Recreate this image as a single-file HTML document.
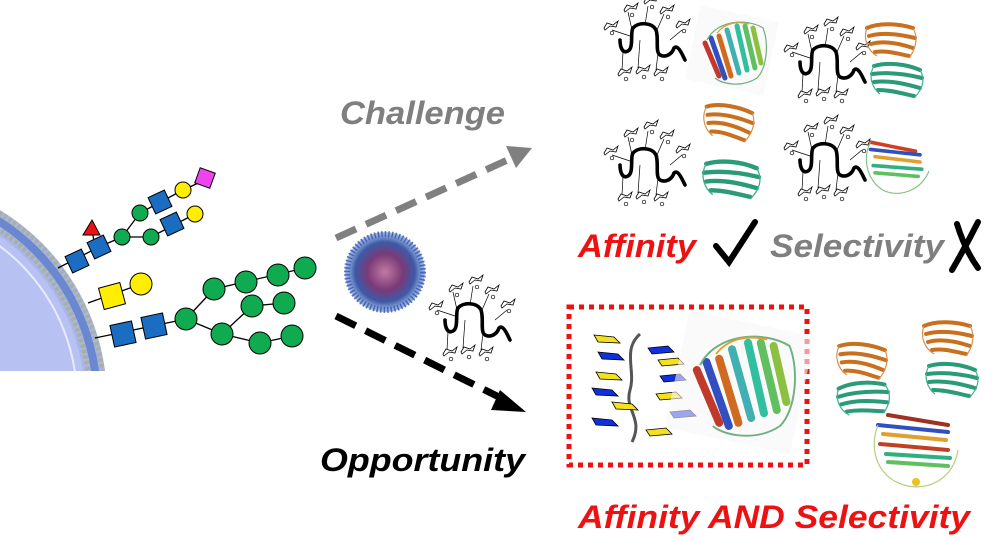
<!DOCTYPE html>
<html><head><meta charset="utf-8"><style>
html,body{margin:0;padding:0;background:#fff;overflow:hidden;width:1000px;height:541px;}
svg{display:block;position:absolute;left:0;top:0;overflow:hidden;}
text{font-family:"Liberation Sans",Arial,sans-serif;font-weight:bold;font-style:italic;}
</style></head><body>
<svg width="1000" height="541" viewBox="0 0 1000 541" xmlns="http://www.w3.org/2000/svg">
<defs>
<radialGradient id="np" cx="50%" cy="50%" r="50%">
<stop offset="0" stop-color="#c07aa0"/><stop offset="0.45" stop-color="#7a3a78"/><stop offset="0.75" stop-color="#3c5aa8"/><stop offset="1" stop-color="#6d8fd0" stop-opacity="0.6"/>
</radialGradient>
<clipPath id="cellclip"><rect x="0" y="0" width="200" height="371"/></clipPath>
<g id="sug">
<path d="M0,0 l3,-5 l6,2 l5,-4 l-2,6 l-6,-1 l-5,4 z" fill="#fff" stroke="#000" stroke-width="0.8"/>
<circle cx="8" cy="5" r="1.8" fill="#fff" stroke="#000" stroke-width="0.7"/>
</g>
<g id="poly">
<g stroke="#000" stroke-width="0.7" fill="none">
<line x1="-18" y1="-10" x2="-22" y2="-28"/><line x1="-5" y1="-15" x2="-2" y2="-34"/><line x1="7" y1="-10" x2="14" y2="-26"/><line x1="20" y1="0" x2="32" y2="-10"/>
<line x1="-27" y1="12" x2="-28" y2="30"/><line x1="-10" y1="0" x2="-12" y2="28"/><line x1="8" y1="13" x2="6" y2="30"/><line x1="-20" y1="-4" x2="-38" y2="-10"/>
</g>
<use href="#sug" x="-46" y="-12"/><use href="#sug" x="-26" y="-30"/><use href="#sug" x="-6" y="-38"/><use href="#sug" x="10" y="-28"/><use href="#sug" x="26" y="-14"/>
<use href="#sug" x="-32" y="34"/><use href="#sug" x="-14" y="32"/><use href="#sug" x="4" y="34"/>
<path d="M-30,0 C-30,8 -27,14 -22,11 C-16,8 -20,-8 -17,-12 C-12,-18 2,-18 6,-10 C9,-2 5,12 10,15 C16,18 22,14 24,8 C28,4 32,14 35,20" fill="none" stroke="#000" stroke-width="3.6" stroke-linecap="round"/>
</g>
<g id="rainbow">
<rect x="-5" y="-5" width="80" height="75" fill="#f6f6f6" opacity="0.6" transform="rotate(12 35 32)"/>
<g fill="none" stroke-width="5" stroke-linecap="round">
<path d="M8,25 L22,58" stroke="#c0392b"/><path d="M14,20 L28,60" stroke="#3050c0"/><path d="M22,18 L34,58" stroke="#d06a20"/>
<path d="M30,12 L42,55" stroke="#40b0b0"/><path d="M40,8 L50,52" stroke="#30c0a0"/><path d="M48,8 L58,50" stroke="#60c060"/><path d="M56,10 L64,45" stroke="#8cc040"/>
</g>
<g fill="none" stroke-width="1.2"><path d="M10,22 C20,2 50,0 66,10 C72,25 70,50 60,60 C45,70 25,66 18,60" stroke="#70b080"/><path d="M20,15 C28,5 40,3 52,6" stroke="#e0a030"/></g>
</g>
<g id="orange">
<g fill="none" stroke="#c8701e" stroke-width="4" stroke-linecap="round">
<path d="M2,10 C15,4 35,6 48,10"/><path d="M4,18 C18,14 34,16 50,20"/><path d="M6,26 C20,22 36,26 48,30"/><path d="M10,34 C22,32 34,36 44,38"/>
</g>
<path d="M2,10 C-2,20 2,32 12,38 M48,10 C54,20 50,32 44,40" fill="none" stroke="#d89050" stroke-width="1.2"/>
</g>
<g id="teal">
<g fill="none" stroke="#2a9a78" stroke-width="4" stroke-linecap="round">
<path d="M4,8 C18,4 36,6 50,12"/><path d="M2,16 C18,14 36,16 52,20"/><path d="M4,24 C20,22 36,26 50,30"/><path d="M8,32 C22,32 34,36 44,38"/>
</g>
<path d="M4,8 C-2,18 2,30 10,36 M50,12 C56,22 52,32 44,40" fill="none" stroke="#40b090" stroke-width="1.2"/>
</g>
</defs>

<!-- cell -->
<g clip-path="url(#cellclip)">
<circle cx="-115" cy="400" r="222" fill="#a9b6e6"/>
<circle cx="-115" cy="400" r="212" fill="none" stroke="#6a88d0" stroke-width="8"/>
<circle cx="-115" cy="400" r="219" fill="none" stroke="#a9b0a0" stroke-width="5" stroke-dasharray="3.5 2.2"/>
<circle cx="-115" cy="400" r="205" fill="none" stroke="#a9b0a0" stroke-width="5" stroke-dasharray="3.5 2.2"/>
<circle cx="-115" cy="400" r="200" fill="#b8c2f2"/>
<circle cx="-115" cy="400" r="192" fill="none" stroke="#e6ebff" stroke-width="2"/>
</g>

<!-- glycans -->
<g stroke="#000" stroke-width="1.3">
<line x1="58" y1="268" x2="99" y2="247"/><line x1="99" y1="247" x2="122" y2="237"/><line x1="95" y1="247" x2="92" y2="230"/>
<line x1="122" y1="237" x2="140" y2="213"/><line x1="140" y1="213" x2="183" y2="190"/><line x1="183" y1="190" x2="205" y2="180"/>
<line x1="122" y1="237" x2="151" y2="237"/><line x1="151" y1="237" x2="195" y2="214"/>
<line x1="88" y1="303" x2="141" y2="284"/>
<line x1="95" y1="338" x2="186" y2="319"/><line x1="186" y1="319" x2="214" y2="289"/><line x1="214" y1="289" x2="305" y2="268"/>
<line x1="186" y1="319" x2="222" y2="334"/><line x1="222" y1="334" x2="252" y2="306"/><line x1="252" y1="306" x2="284" y2="303"/>
<line x1="222" y1="334" x2="260" y2="343"/><line x1="260" y1="343" x2="292" y2="336"/>
</g>
<g stroke="#000" stroke-width="1">
<rect x="68" y="252" width="18" height="18" fill="#1a6dc0" transform="rotate(-25 77 261)"/>
<rect x="90" y="238" width="18" height="18" fill="#1a6dc0" transform="rotate(-25 99 247)"/>
<polygon points="92,220 100,235 83,235" fill="#ee1111"/>
<circle cx="122" cy="237" r="8" fill="#10aa50"/><circle cx="140" cy="213" r="8" fill="#10aa50"/><circle cx="151" cy="237" r="8" fill="#10aa50"/>
<rect x="151" y="193" width="18" height="18" fill="#1a6dc0" transform="rotate(-25 160 202)"/>
<rect x="163" y="215" width="18" height="18" fill="#1a6dc0" transform="rotate(-25 172 224)"/>
<circle cx="183" cy="190" r="8" fill="#ffee00"/><circle cx="195" cy="214" r="8" fill="#ffee00"/>
<rect x="197" y="170" width="16" height="16" fill="#ee44ee" transform="rotate(20 205 178)"/>
<rect x="101" y="285" width="22" height="22" fill="#ffee00" transform="rotate(-15 112 296)"/>
<circle cx="141" cy="284" r="11" fill="#ffee00"/>
<rect x="112" y="323" width="22" height="22" fill="#1a6dc0" transform="rotate(-12 123 334)"/>
<rect x="143" y="315" width="22" height="22" fill="#1a6dc0" transform="rotate(-12 154 326)"/>
<circle cx="186" cy="319" r="11" fill="#10aa50"/><circle cx="214" cy="289" r="11" fill="#10aa50"/><circle cx="246" cy="282" r="11" fill="#10aa50"/><circle cx="278" cy="275" r="11" fill="#10aa50"/><circle cx="305" cy="268" r="11" fill="#10aa50"/>
<circle cx="222" cy="334" r="11" fill="#10aa50"/><circle cx="252" cy="306" r="11" fill="#10aa50"/><circle cx="284" cy="303" r="11" fill="#10aa50"/>
<circle cx="260" cy="343" r="11" fill="#10aa50"/><circle cx="292" cy="336" r="11" fill="#10aa50"/>
</g>

<!-- arrows -->
<line x1="336" y1="238" x2="512" y2="158" stroke="#808080" stroke-width="7" stroke-dasharray="22 11"/>
<polygon points="532,148 506,146 516,168" fill="#808080"/>
<line x1="336" y1="316" x2="505" y2="400" stroke="#000" stroke-width="7" stroke-dasharray="22 11"/>
<polygon points="526,412 500,390 491,410" fill="#000"/>

<!-- nanoparticle -->
<circle cx="385" cy="272" r="40" fill="url(#np)"/>
<circle cx="385" cy="272" r="38" fill="none" stroke="#2f55b0" stroke-width="6" stroke-dasharray="1.5 2" opacity="0.8"/>

<!-- polymers -->
<use href="#poly" x="475" y="320"/>
<use href="#poly" x="650" y="40"/>
<use href="#poly" x="830" y="62"/>
<use href="#poly" x="650" y="165"/>
<use href="#poly" x="830" y="160"/>

<!-- top proteins -->
<use href="#rainbow" x="697" y="18"/>
<use href="#orange" x="865" y="18"/>
<use href="#teal" x="870" y="58"/>
<use href="#orange" x="703" y="100" transform="rotate(8 730 120)"/>
<use href="#teal" x="702" y="155" transform="scale(1.1) translate(-64,-14)"/>
<g transform="translate(866,135) scale(0.9)"><g fill="none" stroke-width="4" stroke-linecap="round">
<path d="M5,8 L55,18" stroke="#d04020"/><path d="M5,16 L60,22" stroke="#3050c0"/><path d="M10,24 L60,30" stroke="#e0a030"/><path d="M8,34 L62,38" stroke="#30b080"/><path d="M10,42 L58,46" stroke="#60c060"/></g>
<path d="M5,8 C-4,25 0,50 20,62 C40,70 62,60 70,40" fill="none" stroke="#80c080" stroke-width="1.2"/></g>

<!-- red box -->
<rect x="569" y="307" width="238" height="158" fill="none" stroke="#ee1111" stroke-width="5" stroke-dasharray="5 5"/>
<g transform="translate(560,290)">
<path d="M80,44 C62,60 76,80 70,100 C64,120 84,128 72,152" fill="none" stroke="#555" stroke-width="3"/>
<g stroke="#000" stroke-width="0.8">
<path d="M34,45 l20,2 l6,6 l-22,-1 z" fill="#f5e020"/><path d="M38,62 l20,2 l6,6 l-22,-1 z" fill="#1030e0"/>
<path d="M36,82 l20,2 l6,6 l-22,-1 z" fill="#f5e020"/><path d="M32,98 l20,2 l6,6 l-22,-1 z" fill="#1030e0"/>
<path d="M52,112 l20,2 l6,6 l-22,-1 z" fill="#f5e020"/><path d="M32,128 l20,2 l6,6 l-22,-1 z" fill="#1030e0"/>
<path d="M88,58 l20,-2 l6,6 l-22,2 z" fill="#1030e0"/><path d="M98,70 l20,-2 l6,6 l-22,2 z" fill="#f5e020"/>
<path d="M100,86 l20,-2 l6,6 l-22,2 z" fill="#1030e0"/><path d="M96,104 l20,-2 l6,6 l-22,2 z" fill="#f5e020"/>
<path d="M110,122 l20,-2 l6,6 l-22,2 z" fill="#1030e0"/><path d="M86,140 l20,-2 l6,6 l-22,2 z" fill="#f5e020"/>
</g></g>
<use href="#rainbow" x="0" y="0" transform="translate(684,330) scale(1.6)"/>

<!-- right cluster -->
<use href="#orange" x="836" y="338" transform="rotate(5 860 360)"/>
<use href="#teal" x="836" y="377" transform="rotate(-10 860 395)"/>
<use href="#orange" x="922" y="316"/>
<use href="#teal" x="925" y="358"/>
<g transform="translate(868,410)"><g fill="none" stroke-width="4" stroke-linecap="round">
<path d="M20,5 L80,15" stroke="#a03020"/><path d="M10,15 L80,22" stroke="#3050c0"/><path d="M15,24 L78,30" stroke="#e0a030"/><path d="M12,34 L80,40" stroke="#c04020"/><path d="M18,44 L82,48" stroke="#30b080"/><path d="M20,52 L80,56" stroke="#60c060"/></g>
<path d="M10,15 C0,40 10,70 40,76 C60,80 85,70 90,40" fill="none" stroke="#b0d080" stroke-width="1.2"/><circle cx="48" cy="72" r="4" fill="#f0c020"/></g>

<!-- text -->
<text x="340" y="124" font-size="32" fill="#7f7f7f" textLength="165" lengthAdjust="spacingAndGlyphs">Challenge</text>
<text x="320" y="471" font-size="32" fill="#000" textLength="205" lengthAdjust="spacingAndGlyphs">Opportunity</text>
<text x="578" y="257" font-size="32" fill="#ee1111" textLength="118" lengthAdjust="spacingAndGlyphs">Affinity</text>
<path d="M716,246 L729,262 L755,222" fill="none" stroke="#000" stroke-width="6" stroke-linecap="round"/>
<text x="770" y="257" font-size="32" fill="#7f7f7f" textLength="174" lengthAdjust="spacingAndGlyphs">Selectivity</text>
<path d="M957,224 Q965,250 978,268 M978,222 Q966,246 952,270" fill="none" stroke="#000" stroke-width="6" stroke-linecap="round"/>
<text x="578" y="528" font-size="32" fill="#ee1111" textLength="392" lengthAdjust="spacingAndGlyphs">Affinity AND Selectivity</text>
</svg>
</body></html>
